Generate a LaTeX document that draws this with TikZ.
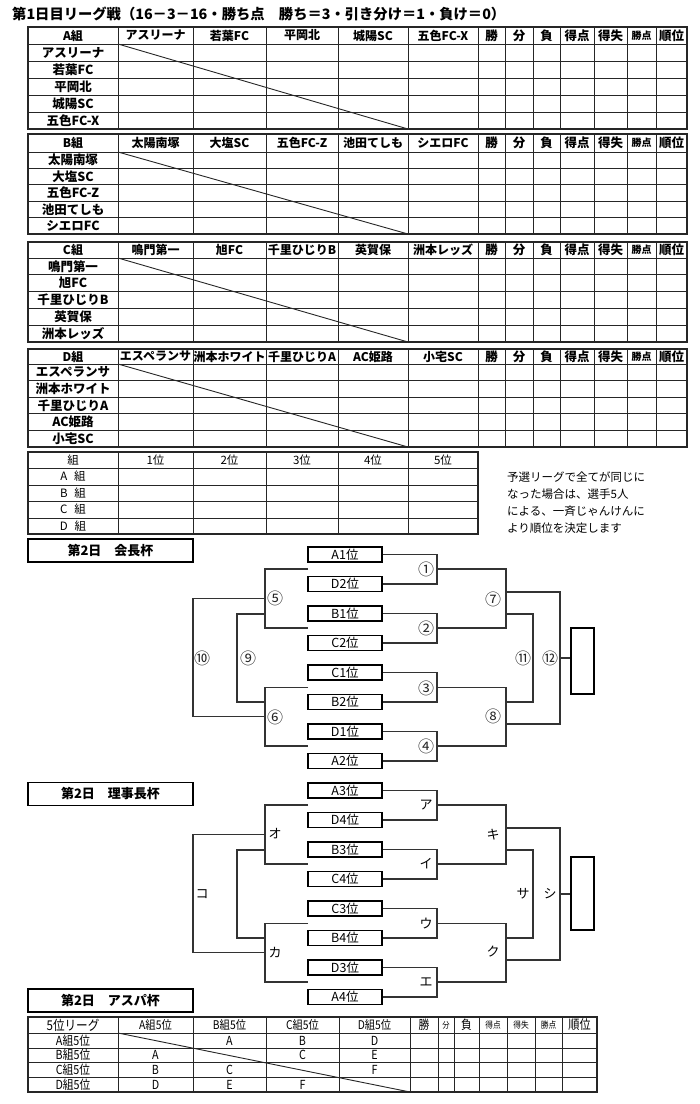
\documentclass[tikz,border=0pt]{standalone}
\usepackage{fontspec}
\setmainfont{Noto Sans CJK JP}
\newfontfamily\narrowjp{Noto Sans CJK JP}[FakeStretch=0.86]
\newcommand\fs[1]{\fontsize{#1}{#1}\selectfont}
\newcommand\leaguetab[6]{%
  \pgfmathsetmacro\rh{(#4-#3)/5}%
  \foreach \x in {118,193,266,338,408,478,505,533,560,594,627,656} {\draw[tab] (\x,#2) -- (\x,#4);}
  \foreach \i in {0,...,4} {\draw[tab] (28,{#3+\i*\rh}) -- (687,{#3+\i*\rh});}
  \draw[tabo] (28,#2) rectangle (687,#4);
  \draw[diag] (118,#3) -- (408,#4);
  \node[hd] (#1g) at (73,{(#2+#3)/2}) {#5};
  \foreach \t [count=\k] in {#6} {
    \pgfmathsetmacro\cx{{155.5,229.5,302,373,443}[\k-1]}
    \node[hd] (#1c\k) at (\cx,{(#2+#3)/2}) {\t};
    \node[hd, font=\bfseries\fs{12.5}] (#1r\k) at (73,{#3+(\k-0.5)*\rh}) {\t};
  }
  \foreach \s/\cx/\f [count=\k] in {勝/491.5/12.5,分/519/12.5,負/546.5/12.5,得点/577/12.5,得失/610.5/12.5,勝点/641.5/10,順位/671.5/12.5} {
    \node[hd, font=\bfseries\fs{\f}] (#1s\k) at (\cx,{(#2+#3)/2}) {\s};
  }
}
\newcommand\cupbracket[7]{%
  \begin{scope}[shift={(0,#2)}]
  \foreach \t [count=\k] in {#3} {
    \pgfmathsetmacro\cy{{554.5,584,613.5,643,672.5,702,731.5,761}[\k-1]}
    \node[teambox] (#1b\k) at (345,\cy) {\t};
  }
  \coordinate (#1r1) at (437,569);
  \coordinate (#1r2) at (437,628);
  \coordinate (#1r3) at (437,687.5);
  \coordinate (#1r4) at (437,746);
  \coordinate (#1s7) at (506,599);
  \coordinate (#1s8) at (506,716.5);
  \coordinate (#1u7a) at (506,592);
  \coordinate (#1u7b) at (506,614);
  \coordinate (#1u8b) at (506,702);
  \coordinate (#1u8a) at (506,724);
  \coordinate (#1f11) at (533,658);
  \coordinate (#1f12) at (560,658);
  \coordinate (#1l1a) at (308,569);
  \coordinate (#1l1b) at (308,628);
  \coordinate (#1l2a) at (308,687.5);
  \coordinate (#1l2b) at (308,746);
  \coordinate (#1l5) at (265,598.5);
  \coordinate (#1l6) at (265,716.5);
  \coordinate (#1l5b) at (265,614);
  \coordinate (#1l6b) at (265,702);
  \coordinate (#1f10) at (193,658);
  \coordinate (#1f9) at (237,658);
  \draw[br] (#1b1.east) -| (#1r1) |- (#1b2.east);
  \draw[br] (#1b3.east) -| (#1r2) |- (#1b4.east);
  \draw[br] (#1b5.east) -| (#1r3) |- (#1b6.east);
  \draw[br] (#1b7.east) -| (#1r4) |- (#1b8.east);
  \draw[br] (#1r1) -| (#1s7) |- (#1r2);
  \draw[br] (#1r3) -| (#1s8) |- (#1r4);
  \draw[br] (#1u7a) -| (#1f12) |- (#1u8a);
  \draw[br] (#1u7b) -| (#1f11) |- (#1u8b);
  \draw[br] (#1l1a) -| (#1l5) |- (#1l1b);
  \draw[br] (#1l2a) -| (#1l6) |- (#1l2b);
  \draw[br] (#1l5) -| (#1f10) |- (#1l6);
  \draw[br] (#1l5b) -| (#1f9) |- (#1l6b);
  \node[finalbox, minimum height=#6] (#1fin) at (582.5,#5) {};
  \draw[br] (#1f12) -- (#1f12 -| #1fin.west);
  \foreach \lab [count=\k] in {#4} {
    \pgfmathsetmacro\lx{{426,426,426,426,275,275,493,493,248,202,523,550}[\k-1]}
    \pgfmathsetmacro\ly{{569,628,688,746,598,717,599,716,658,658,658,658}[\k-1]}
    \node[#7] (#1lab\k) at (\lx,\ly) {\lab};
  }
  \end{scope}
}
\begin{document}
\begin{tikzpicture}[x=1pt,y=-1pt,
  tab/.style={line width=1pt, draw=black!85},
  tabo/.style={line width=1.3pt, draw=black!85},
  diag/.style={line width=0.9pt, draw=black!85},
  hd/.style={font=\bfseries\fs{12}, inner sep=0pt},
  rk/.style={font=\fs{11.5}, inner sep=0pt},
  note/.style={font=\fs{11.5}, inner sep=0pt, anchor=west},
  br/.style={line width=1.1pt, draw=black!80},
  teambox/.style={draw, line width=1.2pt, minimum width=74pt, minimum height=15pt, inner sep=0pt, font=\fs{12.5}},
  finalbox/.style={draw, line width=1.3pt, minimum width=23pt, inner sep=0pt},
  cnum/.style={font=\fs{16}, inner sep=0pt, text=black!85},
  kana/.style={font=\fs{13}, inner sep=0pt},
  titlebox/.style={draw, line width=1.3pt, minimum width=165pt, minimum height=23pt, inner sep=0pt, font=\bfseries\fs{13}},
  bt/.style={font=\narrowjp\fs{12}, inner sep=0pt},
]
\useasboundingbox (0,0) rectangle (700,1104);
\fill[white] (0,0) rectangle (700,1104);
\node[anchor=west, font=\bfseries\fs{14.3}, inner sep=0pt] (title) at (12,14) {第1日目リーグ戦（16－3－16・勝ち点　勝ち＝3・引き分け＝1・負け＝0）};
\leaguetab{A}{27}{44}{129}{A組}{アスリーナ,若葉FC,平岡北,城陽SC,五色FC-X}
\leaguetab{B}{134}{152}{234}{B組}{太陽南塚,大塩SC,五色FC-Z,池田てしも,シエロFC}
\leaguetab{C}{242}{258}{342}{C組}{鳴門第一,旭FC,千里ひじりB,英賀保,洲本レッズ}
\leaguetab{D}{349}{364}{447}{D組}{エスペランサ,洲本ホワイト,千里ひじりA,AC姫路,小宅SC}
% ranking table
\foreach \x in {118,193,266,338,408} {\draw[tab] (\x,452) -- (\x,534);}
\foreach \y in {468,485,501,518} {\draw[tab] (28,\y) -- (478,\y);}
\draw[tabo] (28,452) rectangle (478,534);
\node[rk] (rkh0) at (73,460) {組};
\foreach \t/\cx [count=\k] in {1位/155.5,2位/229.5,3位/302,4位/373,5位/443} {\node[rk] (rkh\k) at (\cx,460) {\t};}
\foreach \t/\cy [count=\k] in {A/476.5,B/493,C/509.5,D/526} {\node[rk] (rkr\k) at (73,\cy) {\t\hspace{0.6em}組};}
\node[note] (n1) at (507,477) {予選リーグで全てが同じに};
\node[note] (n2) at (507,494) {なった場合は、選手5人};
\node[note] (n3) at (507,511.5) {による、一斉じゃんけんに};
\node[note] (n4) at (507,528.5) {より順位を決定します};
% cups
\node[titlebox] (t1) at (110.5,550.5) {第2日　会長杯};
\cupbracket{K}{0}{A1位,D2位,B1位,C2位,C1位,B2位,D1位,A2位}{①,②,③,④,⑤,⑥,⑦,⑧,⑨,⑩,⑪,⑫}{661}{66pt}{cnum}
\node[titlebox] (t2) at (110.5,794) {第2日　理事長杯};
\cupbracket{R}{236}{A3位,D4位,B3位,C4位,C3位,B4位,D3位,A4位}{ア,イ,ウ,エ,オ,カ,キ,ク,{},コ,サ,シ}{657.5}{73pt}{kana}
\node[titlebox] (t3) at (110.5,1000.5) {第2日　アスパ杯};
% 5th place league
\foreach \x in {118,193,266,339,410,438,454,479,507,535,562} {\draw[tab] (\x,1017) -- (\x,1092);}
\foreach \y in {1033,1048,1062,1077} {\draw[tab] (28,\y) -- (597,\y);}
\draw[tabo] (28,1017) rectangle (597,1092);
\draw[diag] (118,1033) -- (410,1092);
\node[bt, font=\narrowjp\fs{13.5}] (fh0) at (73,1025) {5位リーグ};
\foreach \t/\cx/\f [count=\k] in {A組5位/155.5/12,B組5位/229.5/12,C組5位/302.5/12,D組5位/374.5/12,勝/424/12.5,分/446/8.5,負/466.5/12.5,得点/493/9,得失/521/9,勝点/548.5/9,順位/579.5/13} {\node[bt, font=\narrowjp\fs{\f}] (fh\k) at (\cx,1025) {\t};}
\foreach \t/\cy [count=\k] in {A組5位/1040.5,B組5位/1055,C組5位/1069.5,D組5位/1084.5} {\node[bt, font=\narrowjp\fs{12.5}] (fr\k) at (73,\cy) {\t};}
\foreach \t/\cx/\cy [count=\k] in {A/229.5/1040.5,B/302.5/1040.5,D/374.5/1040.5,A/155.5/1055,C/302.5/1055,E/374.5/1055,B/155.5/1069.5,C/229.5/1069.5,F/374.5/1069.5,D/155.5/1084.5,E/229.5/1084.5,F/302.5/1084.5} {\node[bt, font=\narrowjp\fs{12.5}] (fc\k) at (\cx,\cy) {\t};}
\end{tikzpicture}
\end{document}
